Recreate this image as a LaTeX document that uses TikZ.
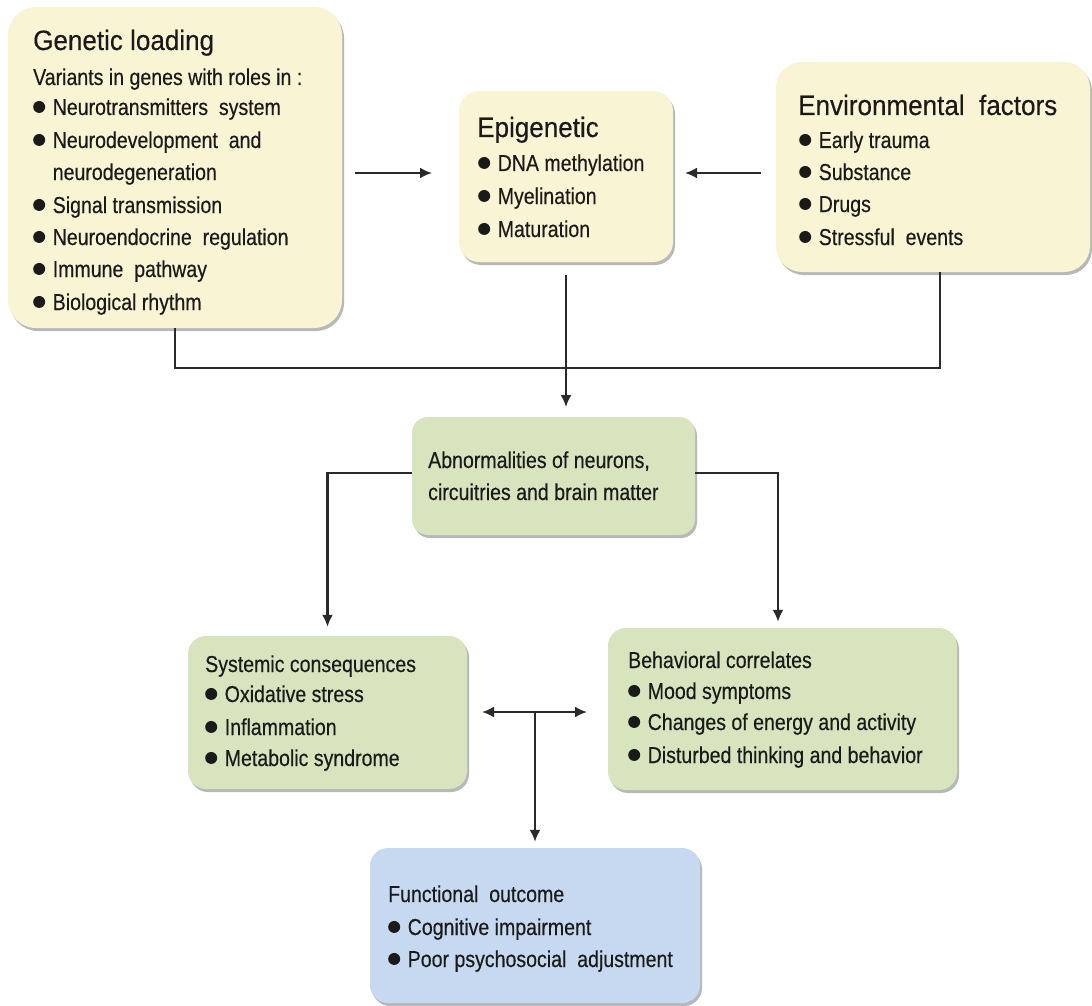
\documentclass[tikz,border=0pt]{standalone}
\usepackage{fontspec}
\setmainfont{Liberation Sans}[FakeStretch=0.85,FakeBold=0.35]
\newfontfamily\titlefont{Liberation Sans}[FakeStretch=0.93,FakeBold=0.35]
\usetikzlibrary{shadows,arrows.meta,calc}
\definecolor{cream}{HTML}{F8F4D4}
\definecolor{sage}{HTML}{D7E4BD}
\definecolor{skyb}{HTML}{C6D9F1}
\definecolor{ink}{HTML}{1A1A1A}
\definecolor{wire}{HTML}{2A2A2A}
\newcommand\bul{\makebox[0.85em][l]{\tikz[baseline=0pt]\fill[ink] (0.25em,0.35em) circle[radius=0.26em];}}
\begin{document}
\begin{tikzpicture}[x=1pt,y=-1pt,
  box/.style={rounded corners=#1, draw=none, inner sep=0pt,
    drop shadow={shadow xshift=2pt, shadow yshift=-3pt, fill=black, opacity=0.28}},
  box/.default=18pt,
  txt/.style={anchor=base west, inner sep=0pt, text=ink, font=\fontsize{23}{28}\selectfont},
  ttl/.style={anchor=base west, inner sep=0pt, text=ink, font=\titlefont\fontsize{28}{34}\selectfont},
  conn/.style={draw=wire, line width=2.2pt},
  arr/.style={conn, -{Latex[length=12pt,width=11pt]}},
  arrtwo/.style={conn, {Latex[length=12pt,width=11pt]}-{Latex[length=12pt,width=11pt]}}]
\useasboundingbox (0,0) rectangle (1092,1006);

% boxes
\node[box=28pt, fill=cream, minimum width=334pt, minimum height=321pt] (gen) at (175,167.5) {};
\node[box=20pt, fill=cream, minimum width=214pt, minimum height=171pt] (epi) at (566,176.5) {};
\node[box=26pt, fill=cream, minimum width=314pt, minimum height=210pt] (env) at (933,167) {};
\node[box=16pt, fill=sage, minimum width=283pt, minimum height=118pt] (abn) at (553.5,476) {};
\node[box=18pt, fill=sage, minimum width=279pt, minimum height=153pt] (sys) at (327.5,712.5) {};
\node[box=18pt, fill=sage, minimum width=349pt, minimum height=162pt] (beh) at (782.5,709) {};
\node[box=18pt, fill=skyb, minimum width=330pt, minimum height=155pt] (fun) at (535,925.5) {};

% genetic text
\node[ttl] (gt0) at (33,50) {Genetic loading};
\node[txt] (gt1) at (33,85) {Variants in genes with roles in :};
\node[txt] (gt2) at (33,115) {\bul Neurotransmitters\ \ system};
\node[txt] (gt3) at (33,148) {\bul Neurodevelopment\ \ and};
\node[txt] (gt4) at (33,180) {\hspace*{0.85em}neurodegeneration};
\node[txt] (gt5) at (33,213) {\bul Signal transmission};
\node[txt] (gt6) at (33,245) {\bul Neuroendocrine\ \ regulation};
\node[txt] (gt7) at (33,277) {\bul Immune\ \ pathway};
\node[txt] (gt8) at (33,310) {\bul Biological rhythm};

% epigenetic text
\node[ttl] (et0) at (477,137) {Epigenetic};
\node[txt] (et1) at (478,171) {\bul DNA methylation};
\node[txt] (et2) at (478,204) {\bul Myelination};
\node[txt] (et3) at (478,237) {\bul Maturation};

% environmental text
\node[ttl] (vt0) at (798,115) {Environmental\ \ factors};
\node[txt] (vt1) at (799,148) {\bul Early trauma};
\node[txt] (vt2) at (799,180) {\bul Substance};
\node[txt] (vt3) at (799,212) {\bul Drugs};
\node[txt] (vt4) at (799,245) {\bul Stressful\ \ events};

% abnormalities text
\node[txt] (at1) at (428,468) {Abnormalities of neurons,};
\node[txt] (at2) at (428,500) {circuitries and brain matter};

% systemic text
\node[txt] (st0) at (205,672) {Systemic consequences};
\node[txt] (st1) at (205,702) {\bul Oxidative stress};
\node[txt] (st2) at (205,735) {\bul Inflammation};
\node[txt] (st3) at (205,766) {\bul Metabolic syndrome};

% behavioral text
\node[txt] (bt0) at (628,668) {Behavioral correlates};
\node[txt] (bt1) at (628,699) {\bul Mood symptoms};
\node[txt] (bt2) at (628,730) {\bul Changes of energy and activity};
\node[txt] (bt3) at (628,763) {\bul Disturbed thinking and behavior};

% functional text
\node[txt] (ft0) at (388,902) {Functional\ \ outcome};
\node[txt] (ft1) at (388,935) {\bul Cognitive impairment};
\node[txt] (ft2) at (388,967) {\bul Poor psychosocial\ \ adjustment};

% connectors
\coordinate (ga) at (355,173);
\coordinate (gb) at (432,173);
\draw[arr] (ga) -- (gb);
\coordinate (ea) at (761,173);
\coordinate (eb) at (685,173);
\draw[arr] (ea) -- (eb);
\draw[conn] (gen.south) -- ++(0,40) -| ([xshift=7pt]env.south);
\coordinate (pa) at (566,275);
\coordinate (pb) at (566,407);
\draw[arr] (pa) -- (pb);
\draw[arr] ([yshift=3pt]abn.west) -| ([yshift=9pt]sys.north);
\draw[arr] ([yshift=3pt]abn.east) -| ([xshift=-4.5pt,yshift=6pt]beh.north);
\coordinate (dl) at (482,712);
\coordinate (dr) at (587,712);
\coordinate (dm) at (535,712);
\draw[arrtwo] (dl) -- (dr);
\draw[arr] (dm) -- ([yshift=6pt]fun.north);
\end{tikzpicture}
\end{document}
